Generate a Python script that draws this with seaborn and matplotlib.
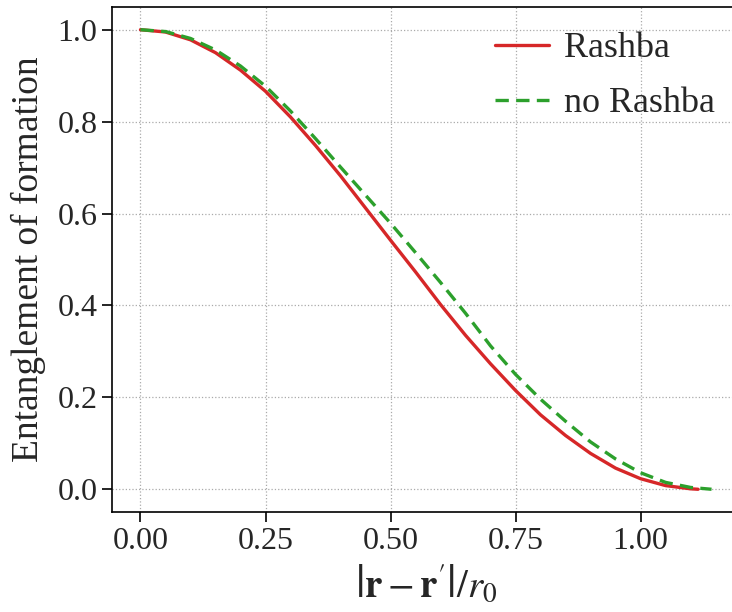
import numpy as np
import pandas as pd
import matplotlib
matplotlib.use("Agg")
import matplotlib.pyplot as plt
import seaborn as sns

# --- Data ---
dist_rashba = [0.00, 0.05, 0.10, 0.15, 0.20, 0.25, 0.30, 0.35, 0.40, 0.45, 0.50,
               0.55, 0.60, 0.65, 0.70, 0.75, 0.80, 0.85, 0.90, 0.95, 1.00,
               1.05, 1.10, 1.115]
eof_rashba = [1.000, 0.995, 0.978, 0.950, 0.912, 0.866, 0.810, 0.748, 0.682, 0.612, 0.542,
              0.473, 0.402, 0.335, 0.273, 0.215, 0.162, 0.117, 0.078, 0.046, 0.023,
              0.008, 0.001, 0.000]

dist_norashba = [0.00, 0.05, 0.10, 0.15, 0.20, 0.25, 0.30, 0.35, 0.40, 0.45, 0.50,
                 0.55, 0.60, 0.65, 0.70, 0.75, 0.80, 0.85, 0.90, 0.95, 1.00,
                 1.05, 1.10, 1.142]
eof_norashba = [1.000, 0.996, 0.981, 0.956, 0.921, 0.877, 0.823, 0.763, 0.701, 0.640, 0.579,
                0.515, 0.450, 0.383, 0.312, 0.250, 0.196, 0.148, 0.103, 0.066, 0.036,
                0.015, 0.004, 0.000]

df_r = pd.DataFrame({"d": dist_rashba, "E": eof_rashba})
df_n = pd.DataFrame({"d": dist_norashba, "E": eof_norashba})

# --- Style ---
sns.set_theme(style="ticks")
plt.rcParams["font.family"] = ["Liberation Serif", "DejaVu Serif"]
plt.rcParams["mathtext.fontset"] = "stix"

fig = plt.figure(figsize=(7.32, 6.12), dpi=100)
ax = fig.add_axes([0.153, 0.163, 0.858, 0.826])

sns.lineplot(data=df_r, x="d", y="E", ax=ax, color="#d62728", lw=2.4,
             label="Rashba", sort=False)
sns.lineplot(data=df_n, x="d", y="E", ax=ax, color="#2ca02c", lw=2.4,
             ls=(0, (4, 2.2)), label="no Rashba", sort=False)

ax.set_xticks([0.0, 0.25, 0.5, 0.75, 1.0])
ax.set_xticklabels(["0.00", "0.25", "0.50", "0.75", "1.00"])
ax.set_yticks([0.0, 0.2, 0.4, 0.6, 0.8, 1.0])
ax.set_yticklabels(["0.0", "0.2", "0.4", "0.6", "0.8", "1.0"])
ax.set_xlim(-0.057, 1.199)
ax.set_ylim(-0.05, 1.05)

ax.grid(True, ls=":", color="#aaaaaa", lw=0.9)
ax.tick_params(axis="both", labelsize=23, length=7, width=1.2, color="black")
for s in ax.spines.values():
    s.set_color("black")
    s.set_linewidth(1.2)

ax.set_xlabel(r"$\left|\mathbf{r}-\mathbf{r}'\right|/r_0$", fontsize=28, labelpad=6)
ax.set_ylabel("Entanglement of formation", fontsize=27, labelpad=8)

leg = ax.legend(loc="upper right", frameon=False, fontsize=26,
                handlelength=1.5, handletextpad=0.4, borderaxespad=0.3,
                labelspacing=0.6, bbox_to_anchor=(1.0, 1.0))

fig.savefig("out.png", dpi=100)
